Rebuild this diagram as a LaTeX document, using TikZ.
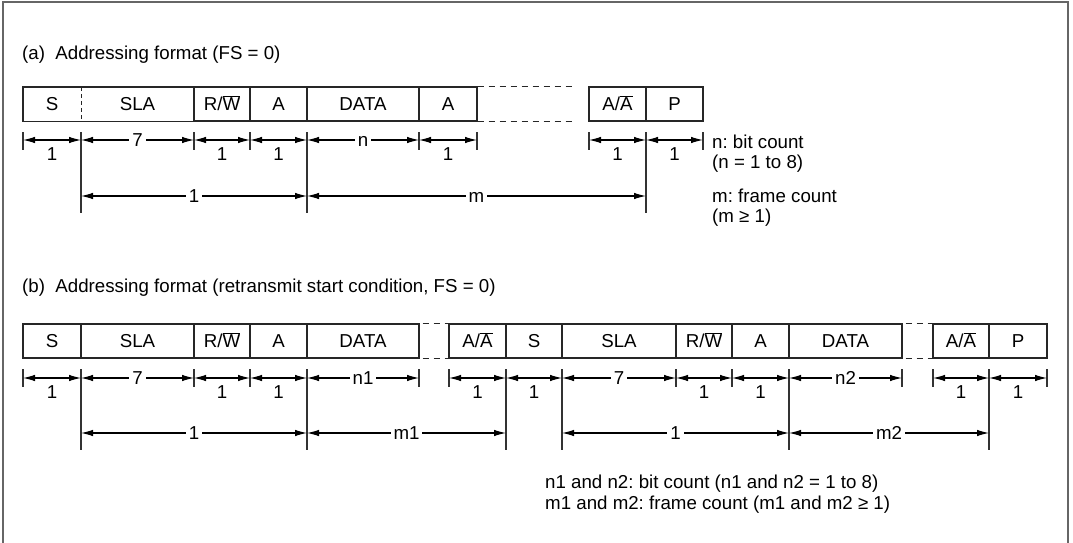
\documentclass[tikz,border=0pt]{standalone}
\usepackage{fontspec}
\setmainfont{Liberation Sans}
\usetikzlibrary{arrows.meta}
\newcommand{\ovbar}[1]{$\overline{\mbox{#1}}$}
\frenchspacing
\begin{document}
\begin{tikzpicture}[x=1pt,y=-1pt,
  font=\fontsize{18.7}{22}\selectfont\frenchspacing,
  boxline/.style={line width=1.4pt, draw=black!85},
  cell/.style={boxline, minimum height=34pt, inner sep=0pt, text height=13.3pt, text depth=0pt},
  cellnd/.style={minimum height=34pt, inner sep=0pt, text height=13.3pt, text depth=0pt},
  gapline/.style={line width=1.4pt, draw=black!85, dash pattern=on 6pt off 5pt},
  dimarrow/.style={draw, line width=1.1pt, {Latex[length=12pt,width=6.5pt]}-{Latex[length=12pt,width=6.5pt]}},
  tickline/.style={draw, line width=1.1pt, black!80},
  lblb/.style={below=7pt, inner sep=0pt, text height=13.3pt, text depth=0pt},
  lbli/.style={fill=white, inner xsep=3pt, inner ysep=1pt, text height=13.3pt, text depth=0pt},
  txt/.style={anchor=base west, inner sep=0pt},
  frameline/.style={draw=black!60, line width=1.6pt}
]
\useasboundingbox (0,0) rectangle (1073,543);
\draw[frameline] (3,543) -- (3,2) -- (1068,2) -- (1068,543);

% ---------------- (a) ----------------
\node[txt] (titleA) at (22,59.5) {(a)\ \ Addressing format (FS = 0)};

\node[cellnd, minimum width=58pt] (aS) at (52,104) {S};
\node[cellnd, minimum width=113pt] (aSLA) at (137.5,104) {SLA};
\draw[boxline] (aS.north west) rectangle (aSLA.south east);
\draw[boxline, dash pattern=on 4pt off 3pt] (aS.north east) -- (aS.south east);
\node[cell, minimum width=56pt] (aRW) at (222,104) {R/\ovbar{W}};
\node[cell, minimum width=57pt] (aA) at (278.5,104) {A};
\node[cell, minimum width=112pt] (aDATA) at (363,104) {DATA};
\node[cell, minimum width=58pt] (aA2) at (448,104) {A};
\node[cell, minimum width=57pt] (aAAb) at (617.5,104) {A/\ovbar{A}};
\node[cell, minimum width=57pt] (aP) at (674.5,104) {P};
\draw[gapline] (aA2.north east) -- ++(94,0);
\draw[gapline] (aA2.south east) -- ++(94,0);

% ticks row a
\foreach \x in {23,194,250,419,477,589,703} \draw[tickline] (\x,132) -- (\x,150);
\foreach \x in {81,307,646} \draw[tickline] (\x,132) -- (\x,213);
\foreach \x in {23,81,194,250,307,419,477,589,646,703} \coordinate (ra\x) at (\x,140);
\foreach \x in {81,307,646} \coordinate (rb\x) at (\x,196);

\draw[dimarrow] (ra23) -- (ra81) node[midway, lblb] (la1) {1};
\draw[dimarrow] (ra81) -- (ra194) node[midway, lbli] (la2) {7};
\draw[dimarrow] (ra194) -- (ra250) node[midway, lblb] (la3) {1};
\draw[dimarrow] (ra250) -- (ra307) node[midway, lblb] (la4) {1};
\draw[dimarrow] (ra307) -- (ra419) node[midway, lbli] (la5) {n};
\draw[dimarrow] (ra419) -- (ra477) node[midway, lblb] (la6) {1};
\draw[dimarrow] (ra589) -- (ra646) node[midway, lblb] (la7) {1};
\draw[dimarrow] (ra646) -- (ra703) node[midway, lblb] (la8) {1};
\draw[dimarrow] (rb81) -- (rb307) node[midway, lbli] (lb1) {1};
\draw[dimarrow] (rb307) -- (rb646) node[midway, lbli] (lb2) {m};

\node[txt] (na1) at (712,148) {n: bit count};
\node[txt] (na2) at (712,168) {(n = 1 to 8)};
\node[txt] (ma1) at (712,202) {m: frame count};
\node[txt] (ma2) at (712,222) {(m ≥ 1)};

% ---------------- (b) ----------------
\node[txt] (titleB) at (22,292.5) {(b)\ \ Addressing format (retransmit start condition, FS = 0)};

\node[cell, minimum width=58pt] (bS) at (52,341) {S};
\node[cell, minimum width=113pt] (bSLA) at (137.5,341) {SLA};
\node[cell, minimum width=56pt] (bRW) at (222,341) {R/\ovbar{W}};
\node[cell, minimum width=57pt] (bA) at (278.5,341) {A};
\node[cell, minimum width=112pt] (bDATA) at (363,341) {DATA};
\node[cell, minimum width=57pt] (bAAb) at (477.5,341) {A/\ovbar{A}};
\node[cell, minimum width=56pt] (bS2) at (534,341) {S};
\node[cell, minimum width=114pt] (bSLA2) at (619,341) {SLA};
\node[cell, minimum width=56pt] (bRW2) at (704,341) {R/\ovbar{W}};
\node[cell, minimum width=57pt] (bA2) at (760.5,341) {A};
\node[cell, minimum width=113pt] (bDATA2) at (845.5,341) {DATA};
\node[cell, minimum width=56pt] (bAAb2) at (961,341) {A/\ovbar{A}};
\node[cell, minimum width=58pt] (bP) at (1018,341) {P};
\draw[gapline, dash phase=8pt] (bDATA.north east) -- (bAAb.north west);
\draw[gapline, dash phase=8pt] (bDATA.south east) -- (bAAb.south west);
\draw[gapline, dash phase=8pt] (bDATA2.north east) -- (bAAb2.north west);
\draw[gapline, dash phase=8pt] (bDATA2.south east) -- (bAAb2.south west);

% ticks row b
\foreach \x in {23,194,250,419,449,676,732,902,933,1047} \draw[tickline] (\x,369) -- (\x,387);
\foreach \x in {81,307,506,562,789,989} \draw[tickline] (\x,369) -- (\x,450);
\foreach \x in {23,81,194,250,307,419,449,506,562,676,732,789,902,933,989,1047} \coordinate (sa\x) at (\x,378);
\foreach \x in {81,307,506,562,789,989} \coordinate (sb\x) at (\x,433);

\draw[dimarrow] (sa23) -- (sa81) node[midway, lblb] (lc1) {1};
\draw[dimarrow] (sa81) -- (sa194) node[midway, lbli] (lc2) {7};
\draw[dimarrow] (sa194) -- (sa250) node[midway, lblb] (lc3) {1};
\draw[dimarrow] (sa250) -- (sa307) node[midway, lblb] (lc4) {1};
\draw[dimarrow] (sa307) -- (sa419) node[midway, lbli] (lc5) {n1};
\draw[dimarrow] (sa449) -- (sa506) node[midway, lblb] (lc6) {1};
\draw[dimarrow] (sa506) -- (sa562) node[midway, lblb] (lc7) {1};
\draw[dimarrow] (sa562) -- (sa676) node[midway, lbli] (lc8) {7};
\draw[dimarrow] (sa676) -- (sa732) node[midway, lblb] (lc9) {1};
\draw[dimarrow] (sa732) -- (sa789) node[midway, lblb] (lc10) {1};
\draw[dimarrow] (sa789) -- (sa902) node[midway, lbli] (lc11) {n2};
\draw[dimarrow] (sa933) -- (sa989) node[midway, lblb] (lc12) {1};
\draw[dimarrow] (sa989) -- (sa1047) node[midway, lblb] (lc13) {1};
\draw[dimarrow] (sb81) -- (sb307) node[midway, lbli] (ld1) {1};
\draw[dimarrow] (sb307) -- (sb506) node[midway, lbli] (ld2) {m1};
\draw[dimarrow] (sb562) -- (sb789) node[midway, lbli] (ld3) {1};
\draw[dimarrow] (sb789) -- (sb989) node[midway, lbli] (ld4) {m2};

\node[txt] (nb1) at (545,488) {n1 and n2: bit count (n1 and n2 = 1 to 8)};
\node[txt] (mb1) at (545,509) {m1 and m2: frame count (m1 and m2 ≥ 1)};
\end{tikzpicture}
\end{document}
